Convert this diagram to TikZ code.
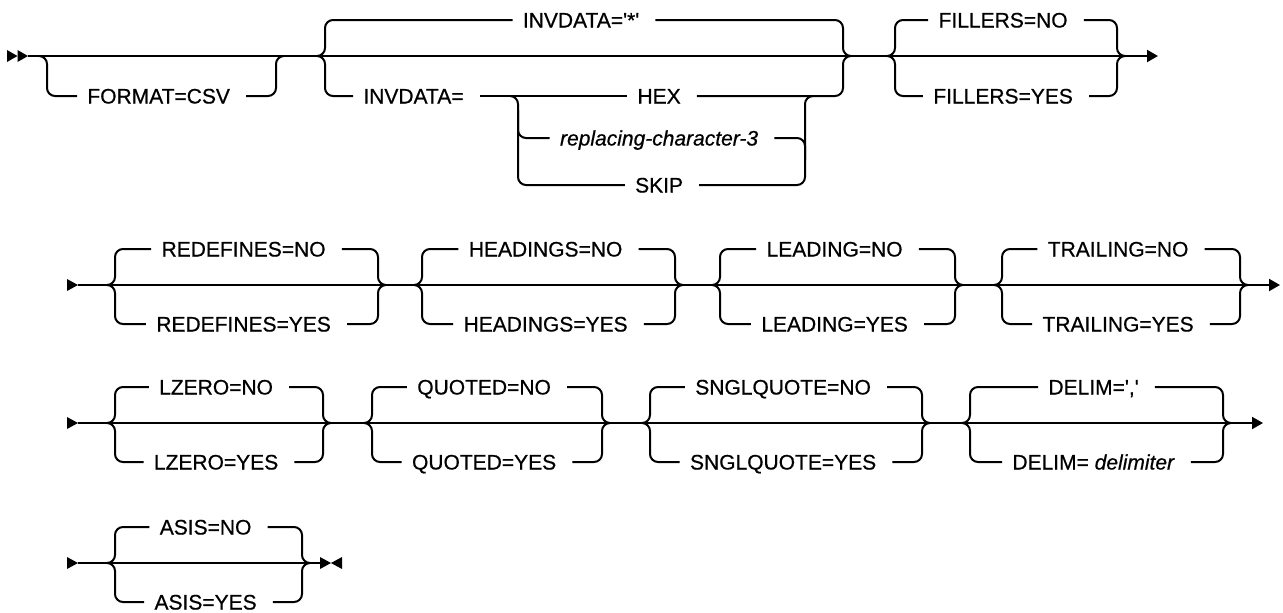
\documentclass[tikz,border=0pt]{standalone}
\usepackage{fontspec}
\setmainfont{Liberation Sans}[UprightFeatures={FakeBold=0.6}, ItalicFeatures={FakeBold=0.6}]
\usetikzlibrary{arrows.meta}

\begin{document}
\begin{tikzpicture}[x=0.5pt, y=-0.5pt,
            opcion/.style={inner xsep=5pt, inner ysep=0pt, text height=7.5pt, text depth=0pt, font=\fontsize{10.5}{12}\selectfont, execute at end node={\kern2.9pt}},
            via/.style={line width=1pt, rounded corners=4pt},
            fin/.style={line width=1pt, -{Triangle[length=5.5pt, width=6pt]}}]

            \useasboundingbox (0,0) rectangle (1283,612);

            % fila 1
            \coordinate (i1) at (28,56);
            \coordinate (f1) at (1158,56);
            \fill (7,50) -- (17.5,56) -- (7,62) -- cycle;
            \fill (17.5,50) -- (28,56) -- (17.5,62) -- cycle;
            \draw[fin] (i1) -- (f1);

            \node[opcion, anchor=west] (fmtcsv) at (77,96) {FORMAT=CSV};
            \draw[via] (39,56) -| (47,96) -- (fmtcsv.west);
            \draw[via] (fmtcsv.east) -| (276,56) -- (284,56);

            \node[opcion] (invdef) at (584,20) {INVDATA=\textquotesingle*\textquotesingle};
            \node[opcion, anchor=west] (inveq) at (353,96) {INVDATA=};
            \node[opcion] (invhex) at (662,96) {HEX};
            \node[opcion] (invrep) at (662,138) {\itshape replacing-character-3};
            \node[opcion] (invskip) at (662,185) {SKIP};
            \draw[via] (317,56) -| (325,20) -- (invdef.west);
            \draw[via] (invdef.east) -| (843,56) -- (851,56);
            \draw[via] (317,56) -| (325,96) -- (inveq.west);
            \draw[via] (inveq.east) -- (invhex.west);
            \draw[via] (invhex.east) -| (843,56) -- (851,56);
            \draw[via] (510,96) -| (518,185) -- (invskip.west);
            \draw[via] (518,110) |- (invrep.west);
            \draw[via] (invskip.east) -| (805,96) -- (813,96);
            \draw[via] (invrep.east) -| (805,160);

            \node[opcion] (filno) at (1006,20) {FILLERS=NO};
            \node[opcion] (filyes) at (1006,96) {FILLERS=YES};
            \draw[via] (887,56) -| (895,20) -- (filno.west);
            \draw[via] (filno.east) -| (1117,56) -- (1125,56);
            \draw[via] (887,56) -| (895,96) -- (filyes.west);
            \draw[via] (filyes.east) -| (1117,56) -- (1125,56);

            % fila 2
            \coordinate (i2) at (78,285);
            \coordinate (f2) at (1280,285);
            \fill (67,279) -- (78,285) -- (67,291) -- cycle;
            \draw[fin] (i2) -- (f2);

            \node[opcion] (redno) at (246.5,249) {REDEFINES=NO};
            \node[opcion] (redyes) at (246.5,324) {REDEFINES=YES};
            \draw[via] (107,285) -| (115,249) -- (redno.west);
            \draw[via] (redno.east) -| (378,285) -- (386,285);
            \draw[via] (107,285) -| (115,324) -- (redyes.west);
            \draw[via] (redyes.east) -| (378,285) -- (386,285);

            \node[opcion] (headno) at (548.5,249) {HEADINGS=NO};
            \node[opcion] (headyes) at (548.5,324) {HEADINGS=YES};
            \draw[via] (414,285) -| (422,249) -- (headno.west);
            \draw[via] (headno.east) -| (675,285) -- (683,285);
            \draw[via] (414,285) -| (422,324) -- (headyes.west);
            \draw[via] (headyes.east) -| (675,285) -- (683,285);

            \node[opcion] (leadno) at (837.5,249) {LEADING=NO};
            \node[opcion] (leadyes) at (837.5,324) {LEADING=YES};
            \draw[via] (712,285) -| (720,249) -- (leadno.west);
            \draw[via] (leadno.east) -| (955,285) -- (963,285);
            \draw[via] (712,285) -| (720,324) -- (leadyes.west);
            \draw[via] (leadyes.east) -| (955,285) -- (963,285);

            \node[opcion] (trailno) at (1121,249) {TRAILING=NO};
            \node[opcion] (trailyes) at (1121,324) {TRAILING=YES};
            \draw[via] (994,285) -| (1002,249) -- (trailno.west);
            \draw[via] (trailno.east) -| (1240,285) -- (1248,285);
            \draw[via] (994,285) -| (1002,324) -- (trailyes.west);
            \draw[via] (trailyes.east) -| (1240,285) -- (1248,285);

            % fila 3
            \coordinate (i3) at (78,423);
            \coordinate (f3) at (1263,423);
            \fill (67,417) -- (78,423) -- (67,429) -- cycle;
            \draw[fin] (i3) -- (f3);

            \node[opcion] (lzno) at (219,387) {LZERO=NO};
            \node[opcion] (lzyes) at (219,462) {LZERO=YES};
            \draw[via] (107,423) -| (115,387) -- (lzno.west);
            \draw[via] (lzno.east) -| (323,423) -- (331,423);
            \draw[via] (107,423) -| (115,462) -- (lzyes.west);
            \draw[via] (lzyes.east) -| (323,423) -- (331,423);

            \node[opcion] (quono) at (487,387) {QUOTED=NO};
            \node[opcion] (quoyes) at (487,462) {QUOTED=YES};
            \draw[via] (364,423) -| (372,387) -- (quono.west);
            \draw[via] (quono.east) -| (602,423) -- (610,423);
            \draw[via] (364,423) -| (372,462) -- (quoyes.west);
            \draw[via] (quoyes.east) -| (602,423) -- (610,423);

            \node[opcion] (sqno) at (786,387) {SNGLQUOTE=NO};
            \node[opcion] (sqyes) at (786,462) {SNGLQUOTE=YES};
            \draw[via] (642,423) -| (650,387) -- (sqno.west);
            \draw[via] (sqno.east) -| (922,423) -- (930,423);
            \draw[via] (642,423) -| (650,462) -- (sqyes.west);
            \draw[via] (sqyes.east) -| (922,423) -- (930,423);

            \node[opcion] (delno) at (1096.5,387) {DELIM=\textquotesingle,\textquotesingle};
            \node[opcion] (delyes) at (1096.5,462) {DELIM= \textit{delimiter}};
            \draw[via] (962,423) -| (970,387) -- (delno.west);
            \draw[via] (delno.east) -| (1223,423) -- (1231,423);
            \draw[via] (962,423) -| (970,462) -- (delyes.west);
            \draw[via] (delyes.east) -| (1223,423) -- (1231,423);

            % fila 4
            \coordinate (i4) at (78,563);
            \coordinate (f4) at (320,563);
            \fill (67,557) -- (78,563) -- (67,569) -- cycle;
            \draw[line width=1pt] (i4) -- (f4);
            \fill (320,557) -- (331,563) -- (320,569) -- cycle;
            \fill (342,557) -- (331,563) -- (342,569) -- cycle;

            \node[opcion] (asisno) at (208.5,527) {ASIS=NO};
            \node[opcion] (asisyes) at (208.5,602) {ASIS=YES};
            \draw[via] (107,563) -| (115,527) -- (asisno.west);
            \draw[via] (asisno.east) -| (302,563) -- (310,563);
            \draw[via] (107,563) -| (115,602) -- (asisyes.west);
            \draw[via] (asisyes.east) -| (302,563) -- (310,563);
        \end{tikzpicture}
\end{document}
